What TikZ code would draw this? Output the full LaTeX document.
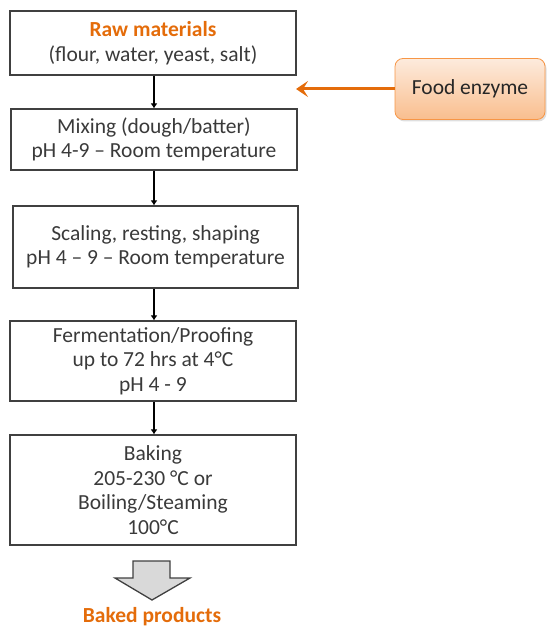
\documentclass[tikz,border=0pt]{standalone}
\usepackage{fontspec}
\setmainfont{Carlito}
\usetikzlibrary{arrows.meta,shadows}
\definecolor{txt}{HTML}{3A3A3A}
\definecolor{bord}{HTML}{404040}
\definecolor{orng}{HTML}{E46C0A}
\definecolor{peachT}{HTML}{FDEBDD}
\definecolor{peachB}{HTML}{F9BE8E}
\definecolor{peachD}{HTML}{F79646}
\tikzset{
  stepbox/.style={draw=bord, line width=1.2pt, rectangle, align=center, text=txt,
    font=\fontsize{21.5}{24.5}\selectfont, inner sep=0pt},
  flowarr/.style={draw=black, line width=2.4pt, -{Latex[length=5pt,width=7pt]}},
  enzbox/.style={draw=peachD, line width=0.8pt, rounded corners=8pt, top color=peachT,
    bottom color=peachB, text=black!85, font=\fontsize{21.5}{24.5}\selectfont,
    drop shadow={opacity=0.25, shadow xshift=1.5pt, shadow yshift=-2pt}},
  enzarr/.style={draw=orng, line width=3pt, -{Stealth[length=12pt,width=16pt,inset=5pt]}},
}
\begin{document}
\begin{tikzpicture}[x=1pt,y=-1pt]
\useasboundingbox (0,0) rectangle (547,628);
\coordinate (ax) at (154,0);
\node[stepbox, minimum width=286pt, minimum height=64pt] (b1) at (153,43)
  {{\color{orng}\bfseries Raw materials}\\(flour, water, yeast, salt)};
\node[stepbox, minimum width=286pt, minimum height=61pt] (b2) at (154,139.5)
  {Mixing (dough/batter)\\pH 4-9 -- Room temperature};
\node[stepbox, minimum width=285pt, minimum height=82pt] (b3) at (155.5,247)
  {Scaling, resting, shaping\\pH 4 -- 9 -- Room temperature};
\node[stepbox, minimum width=286pt, minimum height=80pt] (b4) at (153,361)
  {Fermentation/Proofing\\up to 72 hrs at 4°C\\pH 4 - 9};
\node[stepbox, minimum width=286pt, minimum height=110pt] (b5) at (153,490)
  {Baking\\205-230 °C or\\Boiling/Steaming\\100°C};
\node[enzbox, minimum width=150pt, minimum height=61pt] (enz) at (470,89) {Food enzyme};
\coordinate (tip) at (296,89);
\draw[flowarr] (b1.south -| ax) -- (b2.north -| ax);
\draw[flowarr] (b2.south -| ax) -- (b3.north -| ax);
\draw[flowarr] (b3.south -| ax) -- (b4.north -| ax);
\draw[flowarr] (b4.south -| ax) -- (b5.north -| ax);
\draw[enzarr] (enz.west) -- (tip);
\draw[draw=bord, line width=1.3pt, fill=black!15, line join=miter]
  (133,561) -- (170,561) -- (170,578) -- (190,578) -- (152,600) -- (115,578) -- (133,578) -- cycle;
\node[text=orng, font=\fontsize{21.5}{24.5}\selectfont\bfseries] (baked) at (152,617) {Baked products};
\end{tikzpicture}
\end{document}
